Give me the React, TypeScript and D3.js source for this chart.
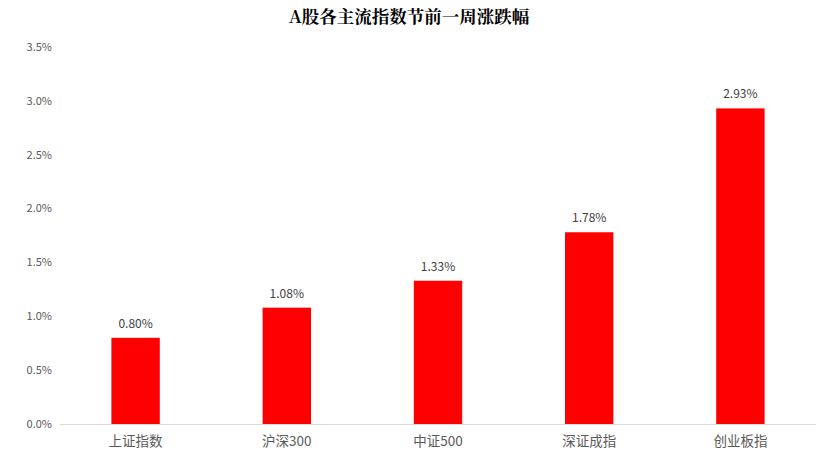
import React from "react";
import * as d3 from "d3";

const categories = ["上证指数", "沪深300", "中证500", "深证成指", "创业板指"];
const values = [0.8, 1.08, 1.33, 1.78, 2.93];
const yTicks = [0, 0.5, 1.0, 1.5, 2.0, 2.5, 3.0, 3.5];
const title = "A股各主流指数节前一周涨跌幅";

const W = 831;
const H = 460;
const left = 60;
const right = 816;
const top = 47;
const bottom = 424;
const font = "'Microsoft YaHei', 'Noto Sans CJK SC', sans-serif";

export default function App() {
  const x = d3.scaleBand<string>().domain(categories).range([left, right]).paddingInner(0.68).paddingOuter(0.34);
  const y = d3.scaleLinear().domain([0, 3.5]).range([bottom, top]);
  return (
    <svg width={W} height={H} style={{ position: "absolute", left: 0, top: 0, background: "#fff" }} fontFamily={font}>
      <text x={409} y={23} textAnchor="middle" fontSize={17.5} fontWeight="bold" fill="#000" fontFamily="'Noto Serif CJK SC', 'Noto Sans CJK SC', serif">
        {title}
      </text>
      {yTicks.map((t) => (
        <text key={t} x={52} y={y(t)} dy="0.35em" textAnchor="end" fontSize={11} fill="#595959">
          {t.toFixed(1) + "%"}
        </text>
      ))}
      <line x1={left} x2={right} y1={bottom + 0.5} y2={bottom + 0.5} stroke="#d9d9d9" strokeWidth={1} />
      {categories.map((c, i) => (
        <g key={c}>
          <rect x={x(c)} y={y(values[i])} width={x.bandwidth()} height={bottom - y(values[i])} fill="#ff0000" />
          <text x={x(c)! + x.bandwidth() / 2} y={y(values[i]) - 10} textAnchor="middle" fontSize={12} fill="#404040">
            {values[i].toFixed(2) + "%"}
          </text>
          <text x={x(c)! + x.bandwidth() / 2} y={446} textAnchor="middle" fontSize={13.5} fill="#595959">
            {c}
          </text>
        </g>
      ))}
    </svg>
  );
}
